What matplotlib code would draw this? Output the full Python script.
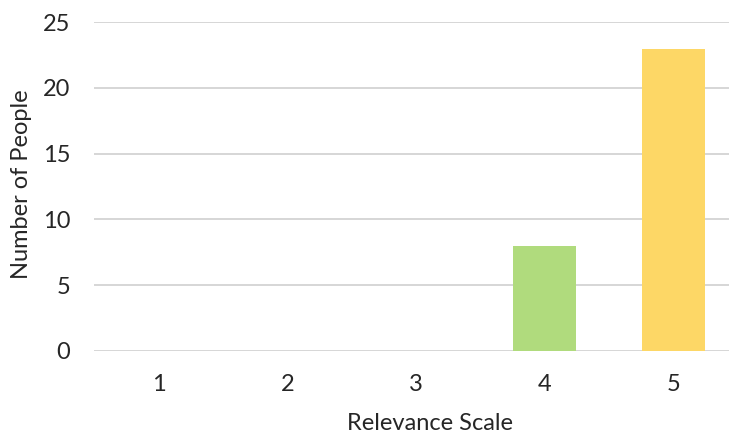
import matplotlib.pyplot as plt

plt.rcParams['font.family'] = ['Lato', 'DejaVu Sans']

scale = [1, 2, 3, 4, 5]
people = [0, 0, 0, 8, 23]
bar_colors = ['#5B9BD5', '#ED7D31', '#A5A5A5', '#B0DB7D', '#FDD766']
text_color = '#262626'

fig = plt.figure(figsize=(7.29, 4.34), dpi=100)
ax = fig.add_axes([94 / 729, 1 - 350.7 / 434, 1 - 94 / 729, (350.7 - 22.3) / 434])

ax.bar(scale, people, width=0.49, color=bar_colors, zorder=3)

ax.set_xlim(0.5, 5.43)
ax.set_ylim(0, 25)
ax.set_yticks(range(0, 26, 5))
ax.set_xticks(scale)
ax.grid(axis='y', color='#D0D0D0', linewidth=1.2, zorder=0)
for side in ax.spines.values():
    side.set_visible(False)
ax.tick_params(length=0, labelsize=17, colors=text_color)
ax.tick_params(axis='y', pad=17)
ax.tick_params(axis='x', pad=17)

ax.set_xlabel('Relevance Scale', fontsize=17, color=text_color)
ax.set_ylabel('Number of People', fontsize=17, color=text_color)
ax.xaxis.set_label_coords((430 - 94) / (729 - 94), -0.19)
ax.yaxis.set_label_coords(-(94 - 22) / (729 - 94), (434 - 184 - (434 - 350.7)) / (350.7 - 22.3))
ax.yaxis.label.set_va('center')

fig.savefig('out.png', dpi=100)
